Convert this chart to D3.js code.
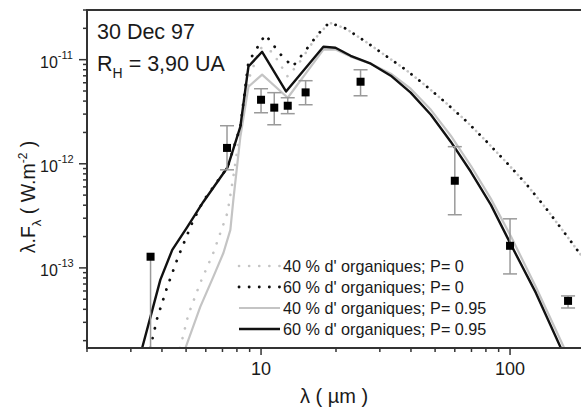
<!DOCTYPE html>
<html>
<head>
<meta charset="utf-8">
<script src="https://cdn.jsdelivr.net/npm/d3@7"></script>
<style>
  body { margin: 0; background: #fff; }
  svg { display: block; font-family: "Liberation Sans", Arial, sans-serif; }
</style>
</head>
<body>
<svg id="chart" width="581" height="410"></svg>
<script>
// Observed fluxes (wavelength in µm, flux in W.m-2) with error bounds
const obsWl   = [3.6, 7.3, 10.0, 11.3, 12.8, 15.1, 25.1, 60, 100, 171];
const obsFlux = [1.28e-13, 1.42e-12, 4.12e-12, 3.46e-12, 3.61e-12, 4.85e-12, 6.14e-12, 6.87e-13, 1.63e-13, 4.82e-14];
const obsHi   = [1.28e-13, 2.32e-12, 5.26e-12, 4.82e-12, 4.31e-12, 6.28e-12, 8.0e-12, 1.46e-12, 2.96e-13, 5.38e-14];
const obsLo   = [1.0e-14, 8.75e-13, 3.09e-12, 2.37e-12, 3.03e-12, 3.69e-12, 4.5e-12, 3.24e-13, 8.75e-14, 4.12e-14];

// Model: 40 % organics, P = 0
const m40p0Wl   = [4.73, 5.10, 5.70, 6.43, 7.33, 7.74, 8.11, 8.42, 8.90, 9.95, 11.1, 12.8, 14.3, 16.5, 18.8, 21.9, 26.3, 31.7, 38.1, 45.9, 55.2, 66.5, 80.0, 96.4, 116, 140, 168, 202];
const m40p0Flux = [1.7e-14, 3.53e-14, 7.18e-14, 1.39e-13, 3.38e-13, 7.5e-13, 1.59e-12, 2.83e-12, 6.43e-12, 1.30e-11, 1.19e-11, 6.87e-12, 9.5e-12, 1.6e-11, 2.27e-11, 1.99e-11, 1.49e-11, 1.09e-11, 8.01e-12, 5.62e-12, 3.86e-12, 2.59e-12, 1.66e-12, 1.04e-12, 6.42e-13, 3.69e-13, 2.07e-13, 1.14e-13];

// Model: 60 % organics, P = 0
const m60p0Wl   = [3.59, 3.83, 4.20, 4.65, 5.29, 5.86, 7.33, 8.26, 8.90, 10.4, 12.0, 13.4, 15.5, 16.9, 18.8, 21.9, 26.3, 31.7, 38.1, 45.9, 55.2, 66.5, 80.0, 96.4, 116, 140, 168, 202];
const m60p0Flux = [1.7e-14, 3.3e-14, 6.56e-14, 1.28e-13, 2.71e-13, 4.4e-13, 9.2e-13, 2.27e-12, 9.5e-12, 1.74e-11, 1.12e-11, 8.57e-12, 1.33e-11, 1.75e-11, 2.27e-11, 1.99e-11, 1.49e-11, 1.09e-11, 8.01e-12, 5.62e-12, 3.86e-12, 2.59e-12, 1.66e-12, 1.04e-12, 6.42e-13, 3.69e-13, 2.07e-13, 1.14e-13];

// Model: 40 % organics, P = 0.95
const m40p95Wl   = [4.97, 5.70, 6.43, 7.06, 7.53, 7.74, 8.26, 8.90, 10.1, 12.8, 17.8, 19.9, 22.9, 27.6, 33.2, 39.9, 48.1, 57.8, 69.6, 83.8, 101, 127, 165];
const m40p95Flux = [1.7e-14, 4.22e-14, 8.19e-14, 1.39e-13, 2.32e-13, 4.51e-13, 1.82e-12, 5.5e-12, 7.18e-12, 4.31e-12, 1.25e-11, 1.25e-11, 1.07e-11, 9.15e-12, 7.33e-12, 5.26e-12, 3.30e-12, 1.86e-12, 9.57e-13, 4.6e-13, 1.99e-13, 6.56e-14, 1.7e-14];

// Model: 60 % organics, P = 0.95
const m60p95Wl   = [3.33, 3.66, 3.94, 4.40, 5.06, 5.86, 7.33, 8.26, 8.90, 10.1, 12.6, 17.8, 19.9, 22.9, 27.6, 33.2, 39.9, 48.1, 57.8, 69.6, 83.8, 101, 127, 160];
const m60p95Flux = [1.7e-14, 3.95e-14, 7.67e-14, 1.49e-13, 2.48e-13, 4.3e-13, 9.2e-13, 2.27e-12, 8.6e-12, 1.19e-11, 4.95e-12, 1.33e-11, 1.30e-11, 1.09e-11, 9.15e-12, 7.02e-12, 4.82e-12, 2.96e-12, 1.63e-12, 8.38e-13, 4.03e-13, 1.66e-13, 5.75e-14, 1.7e-14];

const seriesLabels = [
  "40 % d' organiques; P= 0",
  "60 % d' organiques; P= 0",
  "40 % d' organiques; P= 0.95",
  "60 % d' organiques; P= 0.95"
];

const xMajorTicks = [10, 100];
const yMajorExps = [-13, -12, -11];

const svg = d3.select("#chart");
const plotL = 87, plotT = 10, plotR = 585, plotB = 348;
const ink = "#1a1a1a";

const x = d3.scaleLog().domain([2, 200]).range([plotL, plotR]);
const y = d3.scaleLog().domain([1.7e-14, 3e-11]).range([plotB, plotT]);

svg.append("clipPath").attr("id", "plotClip")
  .append("rect").attr("x", plotL).attr("y", plotT)
  .attr("width", plotR - plotL).attr("height", plotB - plotT);

const plot = svg.append("g").attr("clip-path", "url(#plotClip)");

// Series styles
const styles = [
  { wl: m40p0Wl,   fl: m40p0Flux,   stroke: "#c4c4c4", width: 2.6, dash: "0.1,10", cap: "round" },
  { wl: m60p0Wl,   fl: m60p0Flux,   stroke: "#111",    width: 2.8, dash: "0.1,10", cap: "round" },
  { wl: m40p95Wl,  fl: m40p95Flux,  stroke: "#c4c4c4", width: 2.2, dash: null,     cap: "butt" },
  { wl: m60p95Wl,  fl: m60p95Flux,  stroke: "#111",    width: 2.4, dash: null,     cap: "butt" }
];

const line = d3.line().x(d => x(d[0])).y(d => y(d[1]));

// Gray curves first so the black ones sit on top
[2, 0, 3, 1].forEach(i => {
  const s = styles[i];
  plot.append("path")
    .attr("d", line(s.wl.map((w, k) => [w, s.fl[k]])))
    .attr("fill", "none")
    .attr("stroke", s.stroke)
    .attr("stroke-width", s.width)
    .attr("stroke-linecap", s.cap)
    .attr("stroke-linejoin", "round")
    .attr("stroke-dasharray", s.dash);
});

// Error bars
const obs = obsWl.map((w, i) => ({ w, f: obsFlux[i], hi: obsHi[i], lo: obsLo[i] }));
const eb = plot.append("g").attr("stroke", "#9a9a9a").attr("stroke-width", 1.5);
obs.forEach(d => {
  eb.append("line").attr("x1", x(d.w)).attr("x2", x(d.w)).attr("y1", y(d.hi)).attr("y2", y(d.lo));
  if (d.hi > d.f) eb.append("line").attr("x1", x(d.w) - 7).attr("x2", x(d.w) + 7).attr("y1", y(d.hi)).attr("y2", y(d.hi));
  eb.append("line").attr("x1", x(d.w) - 7).attr("x2", x(d.w) + 7).attr("y1", y(d.lo)).attr("y2", y(d.lo));
});

// Data squares
plot.append("g").selectAll("rect").data(obs).join("rect")
  .attr("x", d => x(d.w) - 4).attr("y", d => y(d.f) - 4)
  .attr("width", 8).attr("height", 8).attr("fill", "#000");

// Frame
svg.append("rect").attr("x", plotL).attr("y", plotT)
  .attr("width", plotR - plotL).attr("height", plotB - plotT)
  .attr("fill", "none").attr("stroke", "#333").attr("stroke-width", 2);

// X axis ticks
const xTicks = [];
for (const dec of [1, 10, 100]) for (let m = 1; m <= 9; m++) {
  const v = m * dec;
  if (v >= 2 && v <= 200) xTicks.push(v);
}
const xAx = svg.append("g").attr("stroke", "#333").attr("stroke-width", 1.5);
xTicks.forEach(v => {
  const major = xMajorTicks.includes(v);
  xAx.append("line").attr("x1", x(v)).attr("x2", x(v))
    .attr("y1", plotB).attr("y2", plotB + (major ? 7 : 4));
});
svg.append("g").selectAll("text").data(xMajorTicks).join("text")
  .attr("x", d => x(d)).attr("y", 375)
  .attr("text-anchor", "middle").attr("font-size", 18).attr("fill", ink)
  .text(d => d);

// Y axis ticks
const yAx = svg.append("g").attr("stroke", "#333").attr("stroke-width", 1.5);
for (let e = -14; e <= -11; e++) for (let m = 1; m <= 9; m++) {
  const v = m * Math.pow(10, e);
  if (v < 1.7e-14 || v > 3e-11) continue;
  yAx.append("line").attr("x1", plotL).attr("x2", plotL - (m === 1 ? 8 : 4))
    .attr("y1", y(v)).attr("y2", y(v));
}
yMajorExps.forEach(e => {
  const t = svg.append("text").attr("x", 40).attr("y", y(Math.pow(10, e)) + 8)
    .attr("font-size", 16).attr("fill", ink);
  t.append("tspan").text("10");
  t.append("tspan").attr("dy", -9).attr("font-size", 11).text(String(e));
});

// Annotation
svg.append("text").attr("x", 97).attr("y", 39).attr("font-size", 21.5).attr("fill", ink).text("30 Dec 97");
const rh = svg.append("text").attr("x", 97).attr("y", 71).attr("font-size", 21.5).attr("fill", ink);
rh.append("tspan").text("R");
rh.append("tspan").attr("dy", 7).attr("font-size", 14).text("H");
rh.append("tspan").attr("dy", -7).text(" = 3,90 UA");

// Legend
const legendY = [266, 287, 308, 329];
styles.forEach((s, i) => {
  svg.append("line").attr("x1", 239).attr("x2", 280)
    .attr("y1", legendY[i]).attr("y2", legendY[i])
    .attr("stroke", s.stroke).attr("stroke-width", s.width)
    .attr("stroke-linecap", s.cap).attr("stroke-dasharray", s.dash);
  svg.append("text").attr("x", 283).attr("y", legendY[i] + 6)
    .attr("font-size", 16.2).attr("fill", ink).text(seriesLabels[i]);
});

// Axis titles
svg.append("text").attr("x", 334).attr("y", 403).attr("text-anchor", "middle")
  .attr("font-size", 20).attr("fill", ink).text("λ ( µm )");

const yt = svg.append("text").attr("transform", "translate(35,197) rotate(-90)")
  .attr("text-anchor", "middle").attr("font-size", 19.5).attr("fill", ink);
yt.append("tspan").text("λ.F");
yt.append("tspan").attr("dy", 6).attr("font-size", 13).text("λ");
yt.append("tspan").attr("dy", -6).text(" ( W.m");
yt.append("tspan").attr("dy", -8).attr("font-size", 12).text("-2");
yt.append("tspan").attr("dy", 8).text(" )");
</script>
</body>
</html>
